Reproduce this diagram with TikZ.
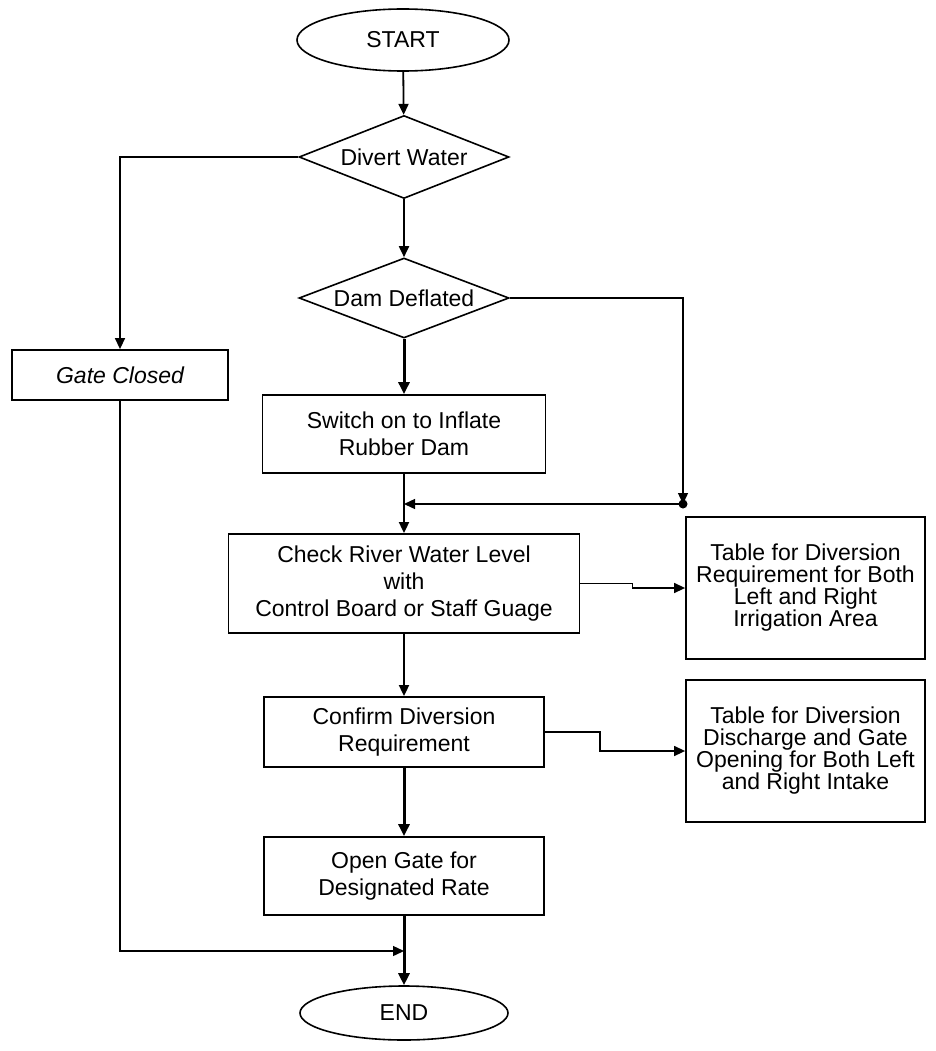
\documentclass[tikz,border=0pt]{standalone}
\usepackage{fontspec}
\setmainfont{Liberation Sans}
\usetikzlibrary{shapes.geometric,arrows.meta}
\begin{document}
\begin{tikzpicture}[x=1pt,y=-1pt,
  every node/.style={inner sep=0pt, align=center, font={\fontsize{23}{27}\selectfont}},
  proc/.style={draw, line width=1.8pt, rectangle},
  term/.style={draw, line width=1.6pt, ellipse},
  dec/.style={draw, line width=1.6pt, diamond},
  tbl/.style={draw, line width=1.8pt, rectangle, font={\fontsize{23}{22}\selectfont}},
  flow/.style={line width=1.8pt, -{Triangle[length=11pt,width=10pt]}},
  bold/.style={line width=3pt, -{Triangle[length=12pt,width=11pt]}},
  side/.style={line width=1.4pt, -{Triangle[length=11pt,width=10pt]}},
  plain/.style={line width=1.8pt}
]
\useasboundingbox (0,0) rectangle (935,1051);
\fill[white] (0,0) rectangle (935,1051);

\node[term, minimum width=212pt, minimum height=62pt] (start) at (403,40) {START};
\node[dec, aspect=2.53, minimum width=210pt, minimum height=83pt] (divert) at (404,157) {Divert Water};
\node[dec, aspect=2.6, minimum width=210pt, minimum height=80pt] (dam) at (404,298) {Dam Deflated};
\node[proc, minimum width=216pt, minimum height=50pt] (gate) at (120,375) {\itshape Gate Closed};
\node[proc, minimum width=283pt, minimum height=78pt] (switch) at (404,434) {Switch on to Inflate\\Rubber Dam};
\node[proc, minimum width=351pt, minimum height=99pt] (check) at (404,583.5) {Check River Water Level\\with\\Control Board or Staff Guage};
\node[tbl, minimum width=239pt, minimum height=142pt] (table1) at (805.5,588) {Table for Diversion\\Requirement for Both\\Left and Right\\Irrigation Area};
\node[proc, minimum width=280pt, minimum height=70pt] (confirm) at (404,732) {Confirm Diversion\\Requirement};
\node[tbl, minimum width=239pt, minimum height=142pt] (table2) at (805.5,751) {Table for Diversion\\Discharge and Gate\\Opening for Both Left\\and Right Intake};
\node[proc, minimum width=280pt, minimum height=78pt] (open) at (404,876) {Open Gate for\\Designated Rate};
\node[term, minimum width=208pt, minimum height=54pt] (end) at (404,1013) {END};

\coordinate (j1) at (683,504);
\coordinate (j2) at (404,504);
\coordinate (j3) at (404,951);

\draw[flow] (start) -- (divert);
\draw[flow] (divert) -- (dam);
\draw[side] (divert.west) -| (gate.north);
\draw[bold] (dam) -- (switch);
\draw[side] (dam.east) -| (j1);
\fill (j1) circle (4.5pt);
\draw[side] (j1) -- (j2);
\draw[flow] (switch) -- (check);
\draw[side] (check.east) -- ++(52,0) |- (table1.west);
\draw[flow] (check) -- (confirm);
\draw[side] (confirm.east) -- ++(55,0) |- (table2.west);
\draw[bold] (confirm) -- (open);
\draw[bold] (open) -- (end);
\draw[side] (gate.south) |- (j3);
\end{tikzpicture}
\end{document}
